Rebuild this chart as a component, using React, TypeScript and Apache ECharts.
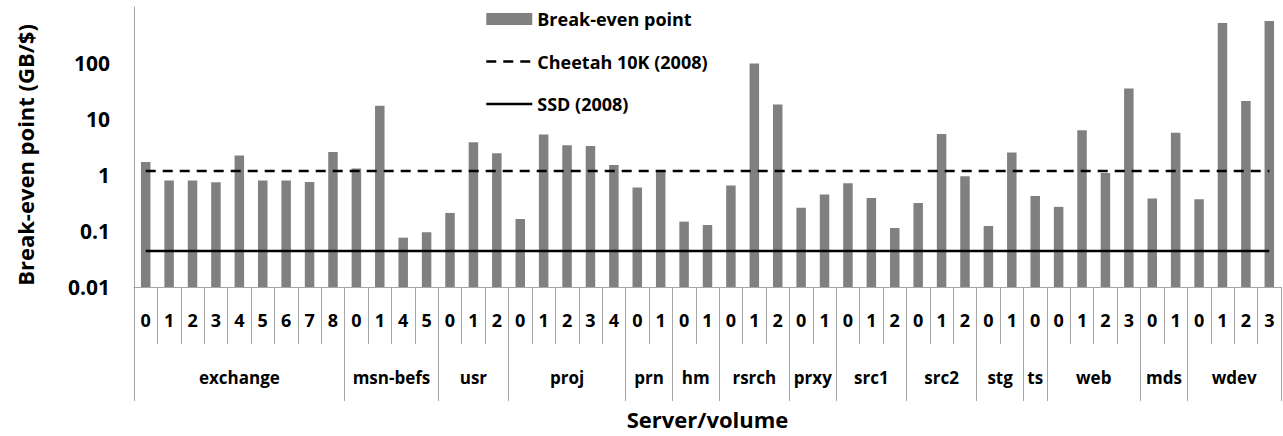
import React, { useEffect, useRef } from "react";
import * as echarts from "echarts";

const groups = ["exchange", "msn-befs", "usr", "proj", "prn", "hm", "rsrch", "prxy", "src1", "src2", "stg", "ts", "web", "mds", "wdev"];
const volumes = [
  ["0", "1", "2", "3", "4", "5", "6", "7", "8"],
  ["0", "1", "4", "5"],
  ["0", "1", "2"],
  ["0", "1", "2", "3", "4"],
  ["0", "1"],
  ["0", "1"],
  ["0", "1", "2"],
  ["0", "1"],
  ["0", "1", "2"],
  ["0", "1", "2"],
  ["0", "1"],
  ["0"],
  ["0", "1", "2", "3"],
  ["0", "1"],
  ["0", "1", "2", "3"],
];
const breakEven = [
  1.71, 0.8, 0.8, 0.74, 2.22, 0.8, 0.8, 0.75, 2.57,
  1.3, 17.3, 0.076, 0.095,
  0.21, 3.84, 2.44,
  0.164, 5.27, 3.39, 3.3, 1.51,
  0.6, 1.2,
  0.147, 0.128,
  0.65, 97.5, 18.1,
  0.26, 0.45,
  0.71, 0.39, 0.113,
  0.316, 5.4, 0.95,
  0.123, 2.51,
  0.42,
  0.27, 6.29, 1.09, 34.9,
  0.38, 5.71,
  0.37, 518, 21, 562,
];
const cheetah10k = 1.18;
const ssd2008 = 0.044;
const yMin = 0.01;
const yMax = 1000;

const FONT = "'Open Sans', 'Noto Sans', sans-serif";
const AXIS_GRAY = "#a6a6a6";

export default function App() {
  const ref = useRef<HTMLDivElement>(null);
  useEffect(() => {
    if (!ref.current) return;
    const chart = echarts.init(ref.current, undefined, { renderer: "svg" });

    const volumeLabels: string[] = [];
    volumes.forEach((v) => v.forEach((x) => volumeLabels.push(x)));
    const n = volumeLabels.length;

    // second axis: half-step points 0..2n; group boundaries and centres
    const halfData: string[] = new Array(2 * n + 1).fill("");
    const boundaries = new Set<number>();
    const centres = new Set<number>();
    let start = 0;
    boundaries.add(0);
    volumes.forEach((v, gi) => {
      const end = start + v.length;
      const c = start + end; // in half steps
      halfData[c] = groups[gi];
      centres.add(c);
      boundaries.add(2 * end);
      start = end;
    });

    const option: any = {
      animation: false,
      grid: { left: 134, right: 2, top: 7, bottom: 149, containLabel: false },
      legend: {
        orient: "vertical",
        left: 480,
        top: 3,
        itemWidth: 46,
        itemHeight: 12,
        itemGap: 20.5,
        lineStyle: { width: 2.5 },
        textStyle: { fontSize: 18, lineHeight: 22, fontWeight: "bold", color: "#000", fontFamily: FONT },
        data: [
          { name: "Break-even point", icon: "rect" },
          { name: "Cheetah 10K (2008)" },
          { name: "SSD (2008)" },
        ],
      },
      xAxis: [
        {
          type: "category",
          data: volumeLabels,
          position: "bottom",
          axisLine: { show: true, onZero: false, lineStyle: { color: AXIS_GRAY, width: 1 } },
          axisTick: { show: true, interval: 0, length: 57, lineStyle: { color: AXIS_GRAY } },
          axisLabel: { interval: 0, margin: 24, fontSize: 18, fontWeight: "bold", color: "#000", fontFamily: FONT },
          splitLine: { show: false },
        },
        {
          type: "category",
          data: halfData,
          boundaryGap: false,
          position: "bottom",
          axisLine: { show: false, onZero: false },
          axisTick: {
            show: true,
            interval: (i: number) => boundaries.has(i),
            length: 114,
            lineStyle: { color: AXIS_GRAY },
          },
          axisLabel: {
            interval: (i: number) => centres.has(i),
            margin: 82,
            fontSize: 17,
            fontWeight: "bold",
            color: "#000",
            fontFamily: FONT,
          },
          splitLine: { show: false },
          name: "Server/volume",
          nameLocation: "middle",
          nameGap: 121,
          nameTextStyle: { fontSize: 22, fontWeight: "bold", color: "#000", fontFamily: FONT },
        },
      ],
      yAxis: {
        type: "log",
        logBase: 10,
        min: yMin,
        max: yMax,
        startValue: yMin,
        axisLine: { show: true, lineStyle: { color: AXIS_GRAY, width: 1 } },
        axisTick: { show: false },
        splitLine: { show: false },
        minorTick: { show: false },
        axisLabel: {
          margin: 24,
          fontSize: 21,
          fontWeight: "bold",
          color: "#000",
          fontFamily: FONT,
          formatter: (v: number) => (v >= yMax * 0.999 ? "" : String(Number(v.toPrecision(3)))),
        },
        name: "Break-even point (GB/$)",
        nameLocation: "middle",
        nameGap: 98,
        nameTextStyle: { fontSize: 22, fontWeight: "bold", color: "#000", fontFamily: FONT, padding: [0, 16, 0, 0] },
      },
      series: [
        {
          name: "Break-even point",
          type: "bar",
          data: breakEven,
          barWidth: 9.5,
          itemStyle: { color: "#808080" },
        },
        {
          name: "Cheetah 10K (2008)",
          type: "line",
          data: new Array(n).fill(cheetah10k),
          symbol: "none",
          itemStyle: { color: "rgba(0,0,0,0)" },
          lineStyle: { color: "#000", width: 2.5, type: [10, 7] },
        },
        {
          name: "SSD (2008)",
          type: "line",
          data: new Array(n).fill(ssd2008),
          symbol: "none",
          itemStyle: { color: "rgba(0,0,0,0)" },
          lineStyle: { color: "#000", width: 2.5, type: "solid" },
        },
      ],
    };
    chart.setOption(option);
    return () => chart.dispose();
  }, []);
  return (
    <div
      ref={ref}
      style={{ position: "fixed", left: 0, top: 0, width: 1283, height: 436, background: "#fff" }}
    />
  );
}
